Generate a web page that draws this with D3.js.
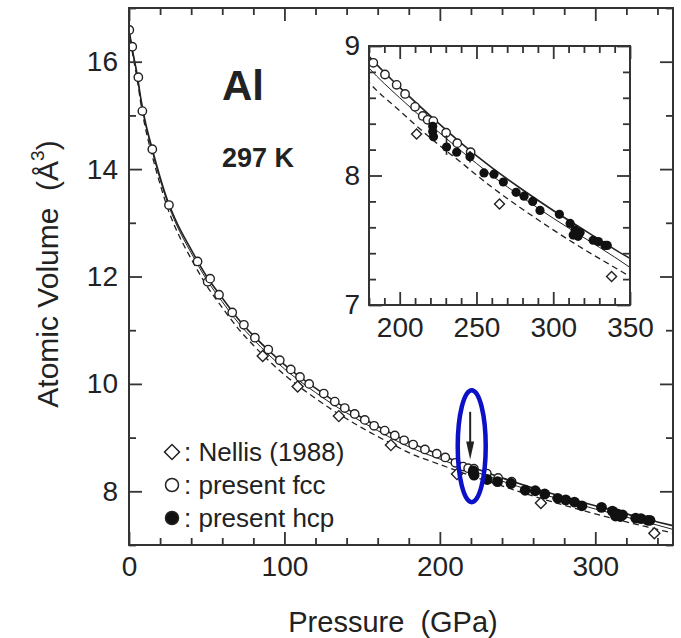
<!DOCTYPE html>
<html>
<head>
<meta charset="utf-8">
<script src="https://cdn.jsdelivr.net/npm/d3@7"></script>
<style>
  body { margin: 0; background: #fff; }
  svg { display: block; font-family: "Liberation Sans", Arial, sans-serif; }
</style>
</head>
<body>
<svg id="chart"></svg>
<script>
// values: [pressure (GPa), atomic volume (A^3)]
const fccPoints = [
  [0.2, 16.59], [2.1, 16.28], [6.0, 15.71], [8.6, 15.08], [15.0, 14.37], [25.7, 13.33],
  [44.1, 12.28], [50.6, 11.90], [52.2, 11.96], [57.9, 11.66], [66.4, 11.33], [73.9, 11.10],
  [81, 10.86], [89.6, 10.64], [97, 10.44], [104.1, 10.27], [110, 10.13], [115.9, 10.0],
  [125.3, 9.82], [132.4, 9.67], [138.8, 9.55], [145.2, 9.44], [151.7, 9.33], [157.7, 9.22],
  [164.5, 9.13], [171, 9.04], [177, 8.95], [182.8, 8.87], [190.4, 8.78], [198, 8.70],
  [203.5, 8.63], [210, 8.53], [215, 8.46], [218.2, 8.43], [221.9, 8.42], [230.2, 8.33],
  [237.5, 8.25], [246.2, 8.18]
];
const hcpPoints = [
  [221.5, 8.38], [221.5, 8.34], [222, 8.30], [230.5, 8.22], [237.1, 8.18], [245.8, 8.145],
  [254.9, 8.02], [261.4, 8.01], [267.5, 7.95], [275.8, 7.87], [281, 7.84], [286.6, 7.80],
  [291.4, 7.73], [304, 7.70], [311, 7.63], [313, 7.54], [314.2, 7.58], [316.2, 7.53],
  [317.5, 7.56], [326, 7.50], [329.4, 7.49], [333.7, 7.46], [335.2, 7.46]
];
// [pressure, low, high]
const hcpErrors = [[230.5, 8.16, 8.31], [245.8, 8.10, 8.19]];
const nellisPoints = [
  [86, 10.52], [108.5, 9.95], [135, 9.40], [168.5, 8.86], [211, 8.32], [265, 7.78], [338, 7.22]
];

// fitted curves
const fitPressure = [0, 2, 5, 8, 10, 15, 20, 25, 30, 40, 50, 60, 70, 80, 90, 100, 110, 120,
  130, 140, 150, 160, 170, 180, 200, 220, 240, 260, 280, 300, 320, 340, 350];
const fitSolid = [16.6, 16.25, 15.8, 15.25, 14.95, 14.37, 13.85, 13.4, 13.05, 12.5, 12.0, 11.6,
  11.22, 10.9, 10.62, 10.36, 10.13, 9.92, 9.72, 9.54, 9.37, 9.21, 9.06, 8.92, 8.68, 8.46, 8.25,
  8.06, 7.89, 7.73, 7.58, 7.43, 7.36];
const fitThin = [16.6, 16.24, 15.78, 15.22, 14.92, 14.33, 13.81, 13.36, 13.0, 12.44, 11.94, 11.53,
  11.15, 10.83, 10.54, 10.28, 10.05, 9.84, 9.64, 9.46, 9.29, 9.13, 8.97, 8.83, 8.60, 8.39, 8.19,
  8.00, 7.83, 7.67, 7.52, 7.37, 7.29];
const fitDashed = [16.58, 16.2, 15.72, 15.15, 14.84, 14.24, 13.72, 13.26, 12.9, 12.33, 11.83, 11.42,
  11.04, 10.72, 10.43, 10.17, 9.94, 9.73, 9.53, 9.35, 9.18, 9.02, 8.87, 8.72, 8.50, 8.29, 8.10,
  7.91, 7.74, 7.58, 7.43, 7.29, 7.22];

// arrow marking the transition: pressure, start volume, tip volume
const arrowMark = [219.5, 9.48, 8.59];

const xTicksMain = [0, 100, 200, 300];
const yTicksMain = [8, 10, 12, 14, 16];
const xTicksInset = [200, 250, 300, 350];
const yTicksInset = [7, 8, 9];
const legendLabels = [': Nellis (1988)', ': present fcc', ': present hcp'];

const W = 681, H = 638;
const ink = '#222';

const svg = d3.select('#chart').attr('width', W).attr('height', H);
svg.append('rect').attr('width', W).attr('height', H).attr('fill', '#fff');

const curves = [
  {v: fitDashed, width: 1.3, dash: '6,4'},
  {v: fitThin, width: 1.0, dash: null},
  {v: fitSolid, width: 1.6, dash: null}
];

function drawPanel(cfg) {
  const w = cfg.right - cfg.left, h = cfg.bottom - cfg.top;
  const x = d3.scaleLinear().domain(cfg.xDomain).range([0, w]);
  const y = d3.scaleLinear().domain(cfg.yDomain).range([h, 0]);

  const g = svg.append('g').attr('transform', `translate(${cfg.left},${cfg.top})`);
  g.append('rect').attr('width', w).attr('height', h).attr('fill', '#fff');

  const clipId = 'clip-' + cfg.name;
  g.append('clipPath').attr('id', clipId)
    .append('rect').attr('width', w).attr('height', h);
  const plot = g.append('g').attr('clip-path', `url(#${clipId})`);

  // curves
  const line = d3.line().x((d, i) => x(fitPressure[i])).y(d => y(d)).curve(d3.curveMonotoneX);
  curves.forEach(c => {
    plot.append('path')
      .datum(c.v)
      .attr('d', line)
      .attr('fill', 'none')
      .attr('stroke', ink)
      .attr('stroke-width', c.width)
      .attr('stroke-dasharray', c.dash);
  });

  // Nellis diamonds
  const diamond = d3.symbol(d3.symbolSquare, 2 * cfg.diam * cfg.diam);
  plot.selectAll('.nellis').data(nellisPoints).join('path')
    .attr('class', 'nellis')
    .attr('d', diamond)
    .attr('transform', d => `translate(${x(d[0])},${y(d[1])}) rotate(45)`)
    .attr('fill', '#fff').attr('stroke', ink).attr('stroke-width', 1.4);

  // fcc open circles
  plot.selectAll('.fcc').data(fccPoints).join('circle')
    .attr('class', 'fcc')
    .attr('cx', d => x(d[0])).attr('cy', d => y(d[1])).attr('r', cfg.rOpen)
    .attr('fill', '#fff').attr('stroke', ink).attr('stroke-width', 1.4);

  // hcp error bars and filled dots
  plot.selectAll('.err').data(hcpErrors).join('line')
    .attr('class', 'err')
    .attr('x1', d => x(d[0])).attr('x2', d => x(d[0]))
    .attr('y1', d => y(d[1])).attr('y2', d => y(d[2]))
    .attr('stroke', ink).attr('stroke-width', 1.6);
  plot.selectAll('.hcp').data(hcpPoints).join('circle')
    .attr('class', 'hcp')
    .attr('cx', d => x(d[0])).attr('cy', d => y(d[1])).attr('r', cfg.rFill)
    .attr('fill', '#111');

  // axes, ticks pointing inward on all four sides
  const t = cfg.ticks;
  const minorX = d3.range(cfg.xDomain[0], cfg.xDomain[1] + 0.001, t.xMinorStep)
    .filter(v => !cfg.xMajor.some(m => Math.abs(m - v) < 1e-6));
  const minorY = d3.range(cfg.yDomain[0], cfg.yDomain[1] + 0.001, t.yMinorStep)
    .filter(v => !cfg.yMajor.some(m => Math.abs(m - v) < 1e-6));

  const axes = [
    g.append('g').attr('transform', `translate(0,${h})`)
      .call(d3.axisBottom(x).tickValues(cfg.xMajor).tickSize(-t.major).tickPadding(t.xPad).tickFormat(d3.format('d'))),
    g.append('g').attr('transform', `translate(0,${h})`)
      .call(d3.axisBottom(x).tickValues(minorX).tickSize(-t.minor).tickFormat('')),
    g.append('g')
      .call(d3.axisTop(x).tickValues(cfg.xMajor).tickSize(-t.major).tickFormat('')),
    g.append('g')
      .call(d3.axisTop(x).tickValues(minorX).tickSize(-t.minor).tickFormat('')),
    g.append('g')
      .call(d3.axisLeft(y).tickValues(cfg.yMajor).tickSize(-t.major).tickPadding(t.yPad).tickFormat(d3.format('d'))),
    g.append('g')
      .call(d3.axisLeft(y).tickValues(minorY).tickSize(-t.minor).tickFormat('')),
    g.append('g').attr('transform', `translate(${w},0)`)
      .call(d3.axisRight(y).tickValues(cfg.yMajor).tickSize(-t.major).tickFormat('')),
    g.append('g').attr('transform', `translate(${w},0)`)
      .call(d3.axisRight(y).tickValues(minorY).tickSize(-t.minor).tickFormat(''))
  ];
  axes.forEach(a => {
    a.select('.domain').remove();
    a.selectAll('line').attr('stroke', '#333').attr('stroke-width', 1.8);
    a.selectAll('text').attr('font-size', cfg.fontSize).attr('fill', ink)
      .attr('font-family', '"Liberation Sans", Arial, sans-serif');
  });

  g.append('rect').attr('width', w).attr('height', h)
    .attr('fill', 'none').attr('stroke', '#333').attr('stroke-width', 2);

  return {g, x, y, w, h};
}

// main panel
const mainP = drawPanel({
  name: 'main', left: 129, right: 673, top: 8, bottom: 545,
  xDomain: [0, 350], yDomain: [7, 17],
  xMajor: xTicksMain, yMajor: yTicksMain,
  ticks: {major: 13, minor: 7, xMinorStep: 20, yMinorStep: 1, xPad: 11, yPad: 11},
  fontSize: 28, rOpen: 4.2, rFill: 5.4, diam: 5.5
});

// titles of the main panel
mainP.g.append('text')
  .attr('x', 222 - 129).attr('y', 100 - 8)
  .attr('font-size', 42).attr('font-weight', 'bold').attr('fill', ink)
  .text('Al');
mainP.g.append('text')
  .attr('x', 222 - 129).attr('y', 167 - 8)
  .attr('font-size', 27).attr('font-weight', 'bold').attr('fill', ink)
  .text('297 K');

// arrow
const ax = mainP.x(arrowMark[0]);
const ay0 = mainP.y(arrowMark[1]), ay1 = mainP.y(arrowMark[2]);
mainP.g.append('line')
  .attr('x1', ax).attr('x2', ax).attr('y1', ay0).attr('y2', ay1 - 14)
  .attr('stroke', ink).attr('stroke-width', 2);
mainP.g.append('path')
  .attr('d', `M${ax - 4},${ay1 - 18} L${ax + 4},${ay1 - 18} L${ax},${ay1} Z`)
  .attr('fill', ink);

// blue highlight ellipse
mainP.g.append('ellipse')
  .attr('cx', mainP.x(220.5)).attr('cy', mainP.y(8.84))
  .attr('rx', 14).attr('ry', 56)
  .attr('fill', 'none').attr('stroke', '#0c10c6').attr('stroke-width', 4.5);

// legend
const legend = mainP.g.append('g').attr('transform', `translate(${172 - 129},${452 - 8})`);
legendLabels.forEach((label, i) => {
  const row = legend.append('g').attr('transform', `translate(0,${i * 33})`);
  if (i === 0) {
    row.append('path')
      .attr('d', d3.symbol(d3.symbolSquare, 2 * 7.5 * 7.5))
      .attr('transform', 'rotate(45)')
      .attr('fill', '#fff').attr('stroke', ink).attr('stroke-width', 1.5);
  } else {
    row.append('circle').attr('r', 6.5)
      .attr('fill', i === 1 ? '#fff' : '#111')
      .attr('stroke', ink).attr('stroke-width', 1.5);
  }
  row.append('text')
    .attr('x', 12).attr('y', 9)
    .attr('font-size', 26).attr('fill', ink)
    .text(label);
});

// axis titles
svg.append('text')
  .attr('x', (129 + 673) / 2 - 8).attr('y', 632)
  .attr('text-anchor', 'middle')
  .attr('font-size', 29).attr('fill', ink)
  .attr('xml:space', 'preserve')
  .text('Pressure  (GPa)');

const yTitle = svg.append('text')
  .attr('transform', `translate(58,${274}) rotate(-90)`)
  .attr('text-anchor', 'middle')
  .attr('font-size', 30).attr('fill', ink)
  .attr('xml:space', 'preserve');
yTitle.append('tspan').text('Atomic Volume  (Å');
yTitle.append('tspan').attr('font-size', 19).attr('dy', -14).text('3');
yTitle.append('tspan').attr('dy', 14).text(')');

// inset panel
drawPanel({
  name: 'inset', left: 369, right: 630, top: 46, bottom: 305,
  xDomain: [180, 350], yDomain: [7, 9],
  xMajor: xTicksInset, yMajor: yTicksInset,
  ticks: {major: 13, minor: 7, xMinorStep: 10, yMinorStep: 0.2, xPad: 12, yPad: 9},
  fontSize: 28, rOpen: 4.2, rFill: 4.6, diam: 5
});
</script>
</body>
</html>
